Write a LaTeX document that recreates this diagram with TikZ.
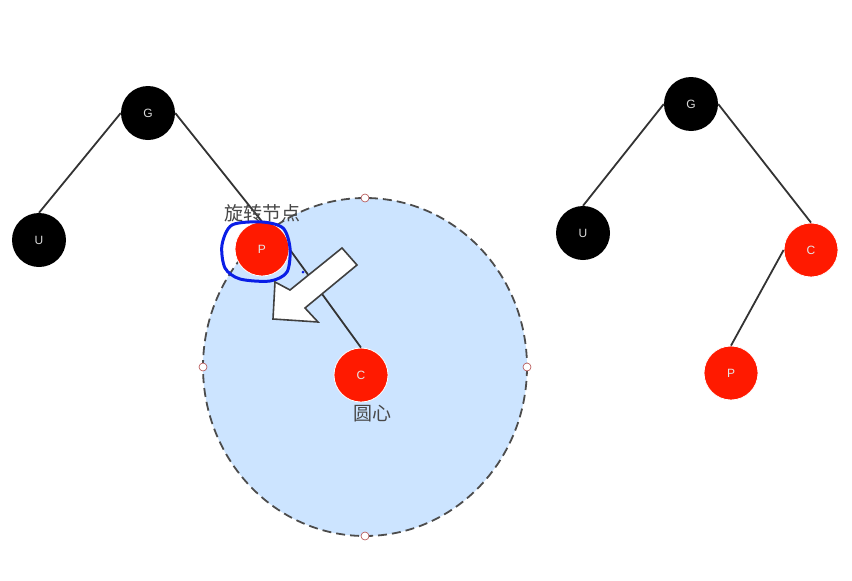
\documentclass[tikz,border=0pt]{standalone}
\usepackage{fontspec}
\setsansfont{Liberation Sans}
\newfontfamily\cjk{Noto Sans CJK SC}
\usepackage{xcolor}
\usepackage{tikz}
\usetikzlibrary{positioning}

\definecolor{nodered}{HTML}{FF1A00}
\definecolor{circfill}{HTML}{CCE4FF}
\definecolor{penblue}{HTML}{0A1EE6}

\begin{document}
\begin{tikzpicture}[x=1pt, y=-1pt,
		blk/.style={circle, fill=black, minimum size=54pt, inner sep=0pt, text=white!85!black, font=\sffamily\fontsize{12}{12}\selectfont},
		rd/.style={circle, fill=nodered, draw=white, line width=0.8pt, minimum size=54pt, inner sep=0pt, text=white!90!black, font=\sffamily\fontsize{12}{12}\selectfont},
		edge/.style={line width=1.8pt, black!80},
		handle/.style={circle, draw=red!40!gray, fill=white, line width=0.6pt, minimum size=8pt, inner sep=0pt},
		note/.style={text=black!72, font=\cjk\fontsize{19}{19}\selectfont}]
		\useasboundingbox (0, 0) rectangle (852, 581);

		% 旋转范围（虚线圆）
		\draw[fill=circfill, draw=black!70, line width=1.8pt, dash pattern=on 9pt off 5pt] (365, 367) ellipse [x radius=162, y radius=169];
		\node[handle] (h1) at (365, 198) {};
		\node[handle] (h2) at (203, 367) {};
		\node[handle] (h3) at (527, 367) {};
		\node[handle] (h4) at (365, 536) {};

		% 旋转前
		\node[blk] (G) at (148, 113) {G};
		\node[blk] (U) at (39, 240) {U};
		\node[rd] (P) at (262, 249) {P};
		\node[rd] (C) at (361, 375) {C};
		\draw[edge] (G.west) -- (U.north);
		\draw[edge] (G.east) -- (P.north);
		\draw[edge] (P.east) -- (C.north);

		\node[note] (lblP) at (262, 213) {旋转节点};
		\node[note] (lblC) at (372, 414) {圆心};

		% 圈出 P
		\draw[penblue, line width=3pt] plot[smooth cycle] coordinates {(232, 225) (262, 222) (283, 228) (290, 248) (287, 272) (270, 281) (240, 279) (225, 268) (222, 245)};
		\fill[penblue] (303, 272) circle (1.5pt);

		% 箭头
		\draw[fill=white, draw=black!75, line width=1.6pt, line join=miter] (342, 248) -- (357, 265) -- (305, 308) -- (318, 322) -- (273, 319) -- (275, 282) -- (290, 290) -- cycle;

		% 旋转后
		\node[blk] (G2) at (691, 104) {G};
		\node[blk] (U2) at (583, 233) {U};
		\node[rd] (C2) at (811, 250) {C};
		\node[rd] (P2) at (731, 373) {P};
		\draw[edge] (G2.west) -- (U2.north);
		\draw[edge] (G2.east) -- (C2.north);
		\draw[edge] (C2.west) -- (P2.north);
	\end{tikzpicture}
\end{document}
